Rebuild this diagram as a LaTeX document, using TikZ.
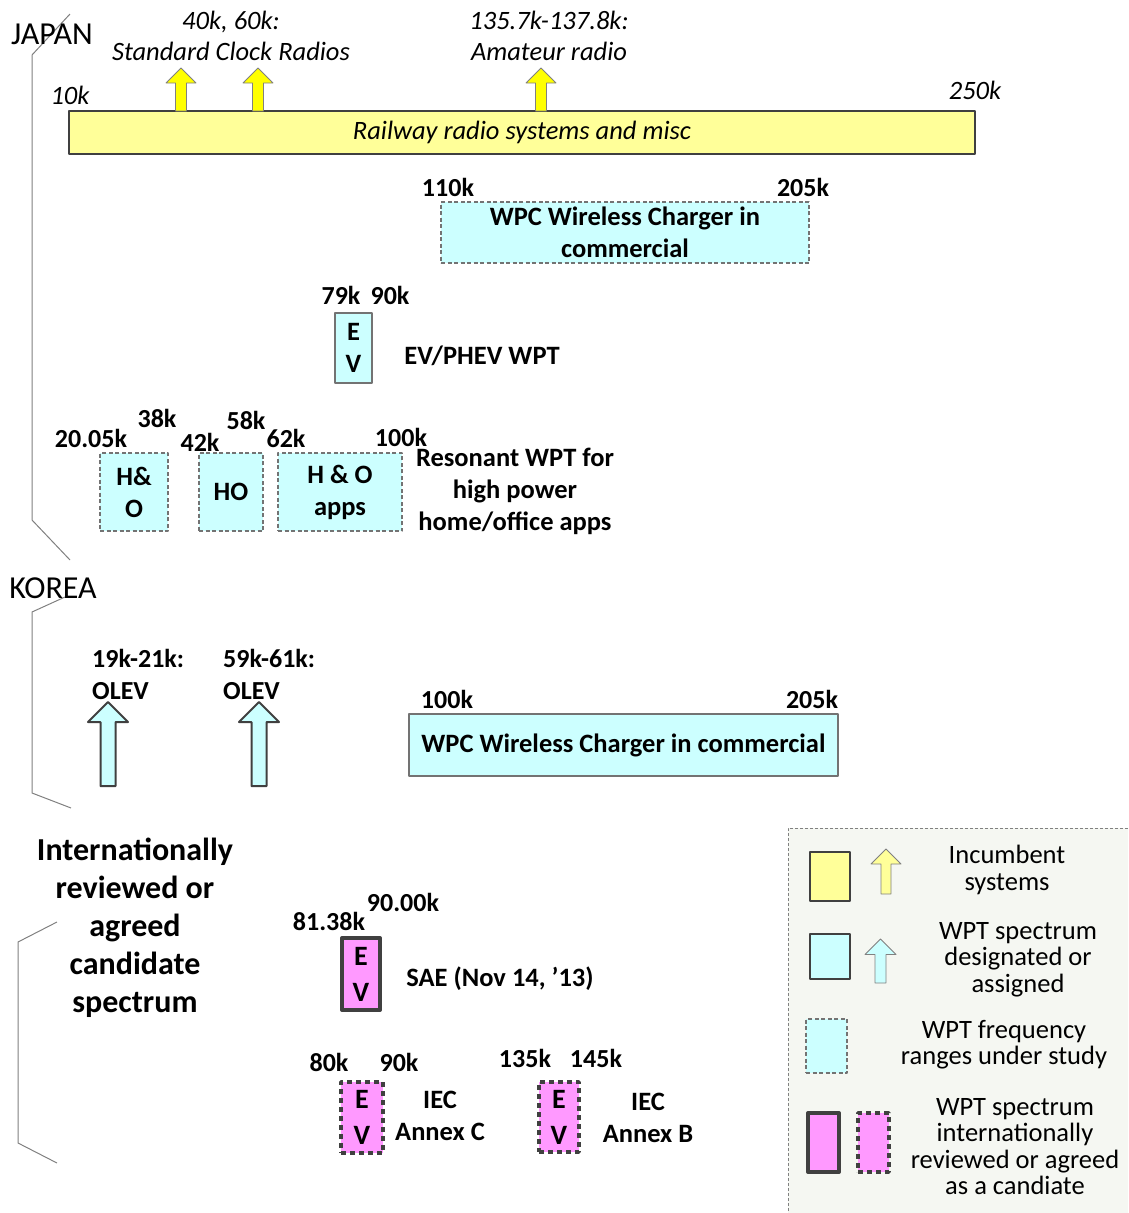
\documentclass[tikz,border=0pt]{standalone}
\usepackage{fontspec}
\setmainfont{Carlito}
\usetikzlibrary{positioning}

\definecolor{incyellow}{HTML}{FFFF99}
\definecolor{arryellow}{HTML}{FFFF00}
\definecolor{wptcyan}{HTML}{CCFFFF}
\definecolor{candpink}{HTML}{FF99FF}
\definecolor{edgegray}{HTML}{404040}
\definecolor{legendbg}{HTML}{F5F7F2}

% up arrow as a closed outline: style, x, bottom, top, head half width, shaft half width
\newcommand{\freqarrow}[6]{%
  \draw[#1] (#2-#6,#3) -- (#2-#6,#4+#5) -- (#2-#5,#4+#5) -- (#2,#4)
    -- (#2+#5,#4+#5) -- (#2+#6,#4+#5) -- (#2+#6,#3) -- cycle;}

\tikzset{
  bracket/.style={draw=gray, line width=1pt},
  region/.style={font=\fontsize{32}{36}\selectfont, inner sep=0pt},
  incnote/.style={font=\itshape\fontsize{26.5}{31}\selectfont, align=center, inner sep=0pt},
  freq/.style={font=\bfseries\fontsize{26}{30}\selectfont, inner sep=0pt},
  note/.style={font=\bfseries\fontsize{26.5}{32}\selectfont, align=center, inner sep=0pt},
  incband/.style={draw=edgegray, line width=2pt, fill=incyellow, inner sep=0pt,
    font=\itshape\fontsize{26.5}{30}\selectfont},
  wptbox/.style={draw=gray!90!black, line width=1.2pt, fill=wptcyan, inner sep=0pt,
    align=center, font=\bfseries\fontsize{26.5}{32}\selectfont},
  studybox/.style={wptbox, dash pattern=on 4pt off 2.5pt},
  candbox/.style={draw=edgegray, line width=4pt, fill=candpink, inner sep=0pt,
    align=center, font=\bfseries\fontsize{28}{36}\selectfont},
  canddash/.style={candbox, line width=3.5pt, dash pattern=on 5pt off 4pt},
  incarrow/.style={draw=gray, line width=0.8pt, fill=arryellow},
  wptarrow/.style={draw=edgegray, line width=2pt, fill=wptcyan},
  legend/.style={font=\fontsize{26.5}{26.5}\selectfont, align=center, inner sep=0pt}
}

\begin{document}
\begin{tikzpicture}[x=1pt, y=-1pt, line join=round]
  \useasboundingbox (0,0) rectangle (1128,1213);

  % region brackets
  \draw[bracket] (70,14) -- (32,55) -- (32,520) -- (70,560);
  \draw[bracket] (65,597) -- (32,612) -- (32,793) -- (71,808);
  \draw[bracket] (57,922) -- (18,942) -- (18,1143) -- (57,1163);

  \node[region] (japan) at (52,34) {JAPAN};
  \node[region] (korea) at (53,588) {KOREA};

  %% JAPAN
  \node[incnote] (clocknote) at (231,36) {40k, 60k:\\Standard Clock Radios};
  \node[incnote] (hamnote) at (549,36) {135.7k-137.8k:\\Amateur radio};
  \node[incnote] (jplo) at (70,95) {10k};
  \node[incnote] (jphi) at (975,90) {250k};
  \node[incband, minimum width=906, minimum height=43] (railway) at (522,132.5)
    {Railway radio systems and misc};
  \freqarrow{incarrow}{181}{111}{68}{15}{5.5}
  \freqarrow{incarrow}{258}{111}{68}{15}{5.5}
  \freqarrow{incarrow}{541}{111}{68}{15}{5.5}

  \node[studybox, minimum width=368, minimum height=61] (wpcjp) at (625,232.5)
    {WPC Wireless Charger in\\commercial};
  \node[freq] (wpcjplo) at (448,187) {110k};
  \node[freq] (wpcjphi) at (803,187) {205k};

  \node[wptbox, minimum width=37, minimum height=70] (evjp) at (353.5,348) {E\\V};
  \node[freq] (evjplo) at (341,295) {79k};
  \node[freq] (evjphi) at (390,295) {90k};
  \node[note] (evjpnote) at (482,356) {EV/PHEV WPT};

  \node[studybox, minimum width=68, minimum height=78] (ho1) at (134,492) {H\&\\O};
  \node[studybox, minimum width=64, minimum height=78] (ho2) at (231,492) {HO};
  \node[studybox, minimum width=124, minimum height=78] (ho3) at (340,492) {H \& O\\apps};
  \node[freq] (ho1lo) at (91,438) {20.05k};
  \node[freq] (ho1hi) at (157,418) {38k};
  \node[freq] (ho2lo) at (200,442) {42k};
  \node[freq] (ho2hi) at (246,420) {58k};
  \node[freq] (ho3lo) at (286,438) {62k};
  \node[freq] (ho3hi) at (401,437) {100k};
  \node[note] (honote) at (515,491) {Resonant WPT for\\high power\\home/office apps};

  %% KOREA
  \node[freq, align=left, anchor=west, font=\bfseries\fontsize{26}{32}\selectfont]
    (olev1) at (92,674) {19k-21k:\\OLEV};
  \node[freq, align=left, anchor=west, font=\bfseries\fontsize{26}{32}\selectfont]
    (olev2) at (223,674) {59k-61k:\\OLEV};
  \freqarrow{wptarrow}{108}{786}{702}{20}{7.5}
  \freqarrow{wptarrow}{259}{786}{702}{20}{7.5}

  \node[wptbox, minimum width=429, minimum height=62] (wpckr) at (623.5,745)
    {WPC Wireless Charger in commercial};
  \node[freq] (wpckrlo) at (447,699) {100k};
  \node[freq] (wpckrhi) at (812,699) {205k};

  %% international candidates
  \node[note, font=\bfseries\fontsize{32}{38}\selectfont] (intl) at (135,928)
    {Internationally\\reviewed or\\agreed\\candidate\\spectrum};

  \node[candbox, minimum width=38, minimum height=72] (sae) at (361,974) {E\\V};
  \node[freq] (saelo) at (329,921) {81.38k};
  \node[freq] (saehi) at (403,902) {90.00k};
  \node[note] (saenote) at (500,979) {SAE (Nov 14, ’13)};

  \node[canddash, minimum width=42, minimum height=71] (iecc) at (362,1117.5) {E\\V};
  \node[freq] (iecclo) at (329,1062) {80k};
  \node[freq] (iecchi) at (399,1062) {90k};
  \node[note] (ieccnote) at (440,1116) {IEC\\Annex C};

  \node[canddash, minimum width=40, minimum height=70] (iecb) at (559,1117) {E\\V};
  \node[freq] (iecblo) at (525,1058) {135k};
  \node[freq] (iecbhi) at (596,1058) {145k};
  \node[note] (iecbnote) at (648,1118) {IEC\\Annex B};

  %% legend
  \fill[legendbg] (788,828) rectangle (1128,1213);
  \draw[draw=gray, line width=0.8pt, dash pattern=on 3pt off 2pt]
    (1128,828) -- (788,828) -- (788,1213);

  \node[draw=edgegray, line width=1.2pt, fill=incyellow, minimum width=40, minimum height=49]
    (keyinc) at (830,876.5) {};
  \freqarrow{incarrow, fill=incyellow}{886}{894}{849}{15}{5}
  \node[legend] (keyinctext) at (1007,870) {Incumbent\\systems};

  \node[draw=edgegray, line width=1.2pt, fill=wptcyan, minimum width=40, minimum height=45]
    (keywpt) at (830,956.5) {};
  \freqarrow{incarrow, fill=wptcyan}{880.5}{983}{939}{15.5}{5.5}
  \node[legend] (keywpttext) at (1018,959.5) {WPT spectrum\\designated or\\assigned};

  \node[studybox, minimum width=41, minimum height=54] (keystudy) at (826.5,1046) {};
  \node[legend] (keystudytext) at (1004,1044.5) {WPT frequency\\ranges under study};

  \node[candbox, minimum width=31, minimum height=59] (keycand) at (823.5,1142.5) {};
  \node[canddash, minimum width=31, minimum height=59] (keycanddash) at (873.5,1142.5) {};
  \node[legend] (keycandtext) at (1015,1146.5)
    {WPT spectrum\\internationally\\reviewed or agreed\\as a candiate};
\end{tikzpicture}
\end{document}
